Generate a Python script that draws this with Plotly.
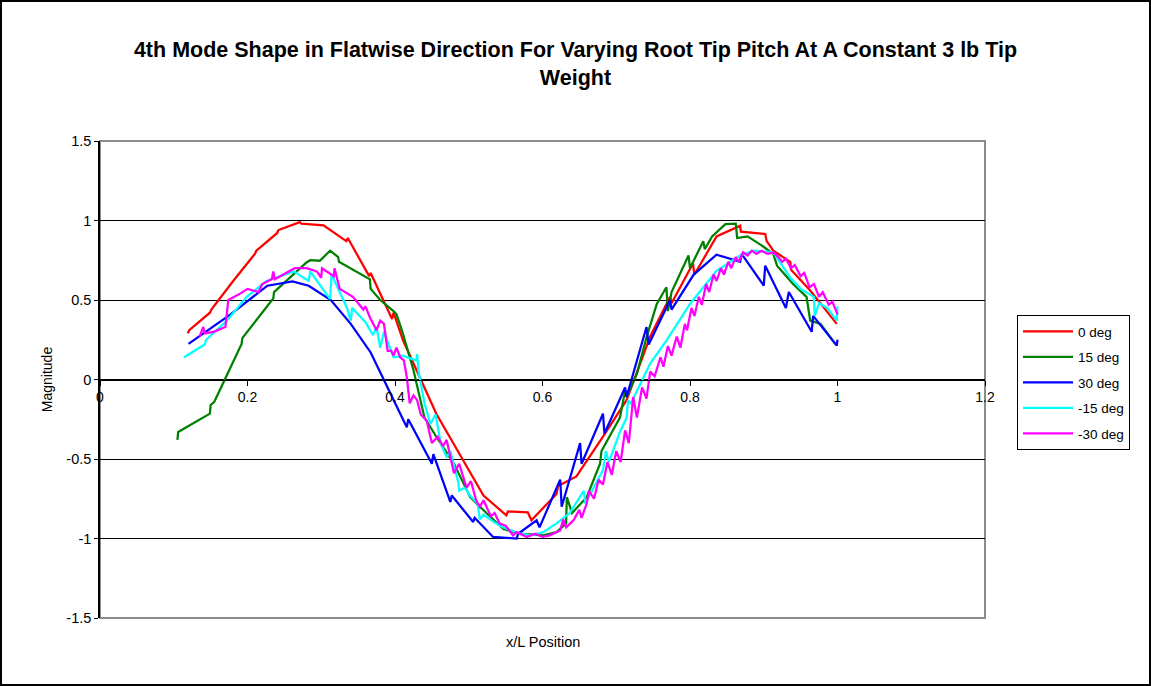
import plotly.graph_objects as go

# ---------------- data ----------------
x_0deg = [0.119, 0.121, 0.149, 0.151, 0.179, 0.210, 0.212, 0.240, 0.242, 0.271, 0.273, 0.303, 0.334, 0.336,
          0.365, 0.367, 0.396, 0.398, 0.411, 0.456, 0.520, 0.551, 0.553, 0.580, 0.585, 0.619, 0.621, 0.646,
          0.682, 0.714, 0.746, 0.773, 0.775, 0.804, 0.806, 0.836, 0.868, 0.869, 0.902, 0.904, 0.913, 0.936,
          0.937, 0.963, 0.999]
y_0deg = [0.29, 0.31, 0.42, 0.44, 0.61, 0.79, 0.81, 0.92, 0.94, 0.99, 0.98, 0.97, 0.87, 0.89,
          0.65, 0.67, 0.38, 0.42, 0.245, -0.215, -0.73, -0.854, -0.83, -0.835, -0.885, -0.72, -0.67, -0.61,
          -0.36, -0.13, 0.27, 0.52, 0.48, 0.73, 0.66, 0.90, 0.967, 0.93, 0.915, 0.87, 0.81, 0.74,
          0.69, 0.56, 0.35]

x_15deg = [0.105, 0.106, 0.149, 0.150, 0.155, 0.192, 0.193, 0.235, 0.236, 0.280, 0.285, 0.298, 0.312, 0.323,
           0.324, 0.366, 0.367, 0.380, 0.398, 0.402, 0.410, 0.425, 0.440, 0.456, 0.480, 0.502, 0.524, 0.547,
           0.570, 0.601, 0.619, 0.632, 0.633, 0.640, 0.660, 0.670, 0.678, 0.680, 0.700, 0.705, 0.712, 0.714,
           0.728, 0.741, 0.755, 0.768, 0.770, 0.775, 0.798, 0.800, 0.818, 0.820, 0.830, 0.848, 0.862, 0.864,
           0.878, 0.895, 0.913, 0.918, 0.940, 0.958, 0.963, 0.977, 0.997]
y_15deg = [-0.38, -0.33, -0.215, -0.16, -0.14, 0.224, 0.26, 0.51, 0.55, 0.736, 0.75, 0.747, 0.81, 0.77,
           0.74, 0.63, 0.57, 0.50, 0.43, 0.41, 0.30, 0.06, -0.24, -0.36, -0.53, -0.74, -0.84, -0.94,
           -0.97, -0.98, -0.96, -0.905, -0.74, -0.84, -0.74, -0.62, -0.53, -0.45, -0.28, -0.24, -0.07, -0.11,
           0.035, 0.265, 0.475, 0.58, 0.43, 0.55, 0.78, 0.70, 0.87, 0.82, 0.90, 0.977, 0.98, 0.89,
           0.90, 0.85, 0.79, 0.716, 0.60, 0.52, 0.37, 0.35, 0.224]

x_30deg = [0.120, 0.177, 0.227, 0.261, 0.283, 0.313, 0.340, 0.367, 0.394, 0.416, 0.418, 0.450, 0.452, 0.475,
           0.477, 0.506, 0.508, 0.533, 0.565, 0.567, 0.592, 0.596, 0.624, 0.626, 0.651, 0.653, 0.682, 0.684,
           0.712, 0.714, 0.741, 0.744, 0.773, 0.775, 0.805, 0.836, 0.868, 0.870, 0.900, 0.902, 0.930, 0.934,
           0.965, 0.967, 0.999, 1.000]
y_30deg = [0.224, 0.41, 0.59, 0.617, 0.59, 0.50, 0.35, 0.17, -0.09, -0.30, -0.25, -0.53, -0.47, -0.77,
           -0.73, -0.896, -0.87, -0.99, -1.0, -0.97, -0.885, -0.93, -0.63, -0.80, -0.40, -0.53, -0.215, -0.34,
           -0.05, -0.11, 0.33, 0.22, 0.50, 0.44, 0.66, 0.785, 0.74, 0.79, 0.59, 0.716, 0.45, 0.55,
           0.30, 0.40, 0.213, 0.25]

x_m15deg = [0.114, 0.142, 0.144, 0.172, 0.199, 0.226, 0.263, 0.283, 0.285, 0.312, 0.314, 0.335, 0.340, 0.342,
            0.360, 0.370, 0.375, 0.380, 0.385, 0.398, 0.410, 0.429, 0.430, 0.432, 0.440, 0.448, 0.455, 0.462,
            0.470, 0.475, 0.486, 0.487, 0.495, 0.500, 0.512, 0.515, 0.520, 0.535, 0.547, 0.570, 0.585, 0.601,
            0.619, 0.637, 0.645, 0.656, 0.658, 0.682, 0.686, 0.690, 0.705, 0.714, 0.716, 0.720, 0.746, 0.768,
            0.800, 0.836, 0.868, 0.886, 0.913, 0.936, 0.950, 0.968, 0.969, 0.975, 0.986, 0.999, 1.000]
y_m15deg = [0.14, 0.22, 0.25, 0.37, 0.52, 0.62, 0.68, 0.62, 0.68, 0.505, 0.66, 0.45, 0.37, 0.45,
            0.36, 0.28, 0.33, 0.20, 0.30, 0.14, 0.15, 0.12, 0.16, 0.05, -0.15, -0.28, -0.22, -0.40,
            -0.49, -0.45, -0.65, -0.70, -0.68, -0.72, -0.78, -0.88, -0.85, -0.90, -0.93, -0.97, -0.98, -0.96,
            -0.905, -0.84, -0.78, -0.70, -0.78, -0.57, -0.45, -0.52, -0.33, -0.24, -0.13, -0.15, 0.10, 0.245,
            0.475, 0.684, 0.78, 0.81, 0.80, 0.64, 0.57, 0.52, 0.40, 0.48, 0.45, 0.37, 0.46]

x_m30deg = [0.135, 0.140, 0.142, 0.154, 0.170, 0.174, 0.190, 0.200, 0.215, 0.220, 0.233, 0.235, 0.237, 0.264,
            0.280, 0.294, 0.300, 0.301, 0.317, 0.318, 0.325, 0.343, 0.357, 0.360, 0.366, 0.372, 0.375, 0.380,
            0.385, 0.390, 0.395, 0.398, 0.402, 0.407, 0.412, 0.416, 0.420, 0.425, 0.430, 0.435, 0.443, 0.450,
            0.458, 0.465, 0.470, 0.480, 0.487, 0.497, 0.503, 0.510, 0.515, 0.520, 0.530, 0.535, 0.542, 0.550,
            0.560, 0.565, 0.579, 0.590, 0.600, 0.610, 0.624, 0.628, 0.632, 0.642, 0.650, 0.653, 0.660, 0.663,
            0.670, 0.676, 0.682, 0.688, 0.694, 0.700, 0.706, 0.712, 0.717, 0.723, 0.728, 0.735, 0.741, 0.746,
            0.752, 0.760, 0.764, 0.770, 0.775, 0.782, 0.787, 0.793, 0.796, 0.802, 0.806, 0.812, 0.816, 0.822,
            0.826, 0.832, 0.836, 0.842, 0.846, 0.852, 0.856, 0.862, 0.866, 0.872, 0.878, 0.884, 0.890, 0.897,
            0.905, 0.913, 0.920, 0.925, 0.930, 0.937, 0.942, 0.950, 0.955, 0.962, 0.968, 0.975, 0.980, 0.988,
            0.993, 1.000]
y_m30deg = [0.27, 0.33, 0.29, 0.30, 0.33, 0.50, 0.54, 0.57, 0.55, 0.60, 0.63, 0.68, 0.63, 0.70,
            0.70, 0.68, 0.64, 0.70, 0.65, 0.70, 0.57, 0.52, 0.44, 0.46, 0.39, 0.34, 0.31, 0.37,
            0.35, 0.18, 0.18, 0.15, 0.20, 0.14, 0.12, 0.015, -0.15, -0.10, -0.13, -0.22, -0.26, -0.40,
            -0.36, -0.42, -0.38, -0.59, -0.53, -0.68, -0.64, -0.76, -0.80, -0.76, -0.86, -0.84, -0.906, -0.92,
            -0.98, -0.96, -0.99, -0.97, -0.99, -0.98, -0.95, -0.88, -0.93, -0.885, -0.82, -0.87, -0.78, -0.70,
            -0.75, -0.63, -0.66, -0.52, -0.60, -0.45, -0.52, -0.32, -0.40, -0.11, -0.24, -0.05, -0.12, 0.05,
            0.02, 0.14, 0.08, 0.21, 0.15, 0.27, 0.20, 0.35, 0.31, 0.45, 0.40, 0.52, 0.47, 0.60,
            0.55, 0.66, 0.62, 0.70, 0.66, 0.74, 0.70, 0.77, 0.74, 0.80, 0.78, 0.81, 0.79, 0.81,
            0.79, 0.80, 0.77, 0.74, 0.76, 0.70, 0.72, 0.65, 0.67, 0.58, 0.60, 0.52, 0.55, 0.47,
            0.49, 0.41]

series_names = ["0 deg", "15 deg", "30 deg", "-15 deg", "-30 deg"]
series_x = [x_0deg, x_15deg, x_30deg, x_m15deg, x_m30deg]
series_y = [y_0deg, y_15deg, y_30deg, y_m15deg, y_m30deg]
series_colors = ["#FF0000", "#008000", "#0000FF", "#00FFFF", "#FF00FF"]

x_ticks = [0, 0.2, 0.4, 0.6, 0.8, 1, 1.2]
x_ticklabels = ["0", "0.2", "0.4", "0.6", "0.8", "1", "1.2"]
y_ticks = [-1.5, -1, -0.5, 0, 0.5, 1, 1.5]
y_ticklabels = ["-1.5", "-1", "-0.5", "0", "0.5", "1", "1.5"]

title_text = ("4th Mode Shape in Flatwise Direction For Varying Root Tip Pitch At A Constant 3 lb Tip"
              "<br>Weight")

# ---------------- figure ----------------
W, H = 1151, 686
ML, MR, MT, MB = 100, 166, 141, 68
PW, PH = W - ML - MR, H - MT - MB

FONT = "Liberation Sans, Arial, sans-serif"

fig = go.Figure()
for i, (name, xs, ys, c) in enumerate(zip(series_names, series_x, series_y, series_colors)):
    fig.add_trace(go.Scatter(x=xs, y=ys, mode="lines", name=name, legendgroup=f"g{i}",
                             line=dict(color=c, width=2.25)))

fig.update_layout(
    width=W, height=H,
    margin=dict(l=ML, r=MR, t=MT, b=MB, autoexpand=False),
    paper_bgcolor="white", plot_bgcolor="white",
    font=dict(family=FONT, size=13, color="black"),
    title=dict(text=title_text, x=0.5, xref="container", xanchor="center",
               y=1 - 57 / H, yref="container", yanchor="top", pad=dict(t=0, b=0),
               font=dict(family=FONT, size=21.5, color="black", weight="bold")),
    showlegend=True,
    legend=dict(x=(1017 - ML) / PW, xanchor="left", y=(MT + PH - 315) / PH, yanchor="top",
                bordercolor="black", borderwidth=1, bgcolor="white",
                font=dict(family=FONT, size=13.5), traceorder="grouped", tracegroupgap=5,
                itemwidth=50),
    xaxis=dict(range=[0, 1.2], tickvals=x_ticks, ticktext=x_ticklabels,
               anchor="free", position=0.5, showline=True, linecolor="black", linewidth=1,
               ticks="outside", ticklen=5, tickcolor="black", showgrid=False, zeroline=False,
               tickfont=dict(family=FONT, size=14)),
    yaxis=dict(range=[-1.5, 1.5], tickvals=y_ticks, ticktext=y_ticklabels,
               showline=True, linecolor="black", linewidth=1.5,
               ticks="outside", ticklen=4, tickcolor="black",
               showgrid=True, gridcolor="black", gridwidth=1, zeroline=False,
               tickfont=dict(family=FONT, size=14.5),
               title=dict(text="Magnitude", font=dict(family=FONT, size=14), standoff=10)),
)

# x axis title placed below plot area
fig.add_annotation(text="x/L Position", xref="paper", yref="paper", x=0.5, y=-(642 - (MT + PH)) / PH,
                   showarrow=False, font=dict(family=FONT, size=14.5), yanchor="middle")

# plot area border (gray)
fig.add_shape(type="rect", xref="paper", yref="paper", x0=0, y0=0, x1=1, y1=1,
              line=dict(color="#8C8C8C", width=2), layer="below")
# outer chart border (black)
fig.add_shape(type="rect", xref="paper", yref="paper",
              x0=(1 - ML) / PW, x1=(W - 1 - ML) / PW,
              y0=(MT + PH - (H - 1)) / PH, y1=(MT + PH - 1) / PH,
              line=dict(color="black", width=2))

fig.write_html("out.html", config={"displayModeBar": False},
               post_script="document.body.style.margin='0px';document.body.style.overflow='hidden';")
